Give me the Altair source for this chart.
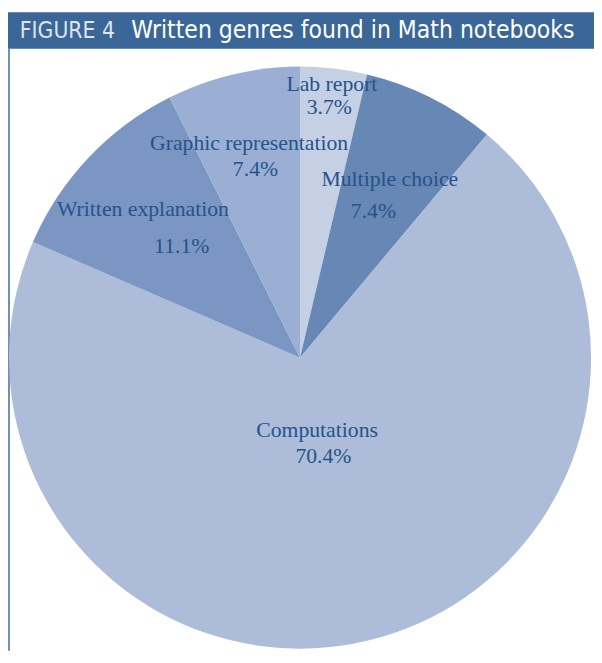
import math
import altair as alt
import pandas as pd

# ---- data ----
GENRES = ["Lab report", "Multiple choice", "Computations",
          "Written explanation", "Graphic representation"]
SHARES = [3.7, 7.4, 70.4, 11.1, 7.4]
PCT_LABELS = ["3.7%", "7.4%", "70.4%", "11.1%", "7.4%"]
TITLE_PREFIX = "FIGURE 4"
TITLE_TEXT = "Written genres found in Math notebooks"

# ---- style / layout ----
COLORS = ["#c6d0e5", "#6787b5", "#adbcd8", "#7b96c2", "#9aafd3"]
NAME_RADIUS = [279, 203, 75, 219, 224]
PCT_RADIUS = [256, 166, 103, 165, 196]
TXT = "#24548b"
BAND = "#3b6798"
W, H = 594, 647
CX, CY, R = 296, 350, 295
SERIF = "Liberation Serif"
COND = "Liberation Sans Narrow, DejaVu Sans Condensed, Roboto, sans-serif"

df = pd.DataFrame({
    "genre": GENRES,
    "share": SHARES,
    "pct": PCT_LABELS,
    "order": list(range(len(GENRES))),
    "name_r": NAME_RADIUS,
    "pct_r": PCT_RADIUS,
})

theta_scale = alt.Scale(domain=[0, 100], range=[0, 2 * math.pi])

arc = alt.Chart(df).mark_arc(outerRadius=R).encode(
    theta=alt.Theta("share:Q", stack=True, scale=theta_scale),
    order=alt.Order("order:Q"),
    x=alt.value(CX),
    y=alt.value(CY),
    color=alt.Color("genre:N", scale=alt.Scale(domain=GENRES, range=COLORS), legend=None),
)

lab = alt.Chart(df).transform_window(
    cum="sum(share)", sort=[alt.SortField("order")]
).transform_calculate(
    mid="datum.cum - datum.share / 2"
).encode(
    theta=alt.Theta("mid:Q", stack=None, scale=theta_scale),
    x=alt.value(CX),
    y=alt.value(CY),
)

names = lab.mark_text(font=SERIF, fontSize=22, color=TXT).encode(
    text="genre:N",
    radius=alt.Radius("name_r:Q", scale=None, stack=None),
)
pcts = lab.mark_text(font=SERIF, fontSize=22, color=TXT).encode(
    text="pct:N",
    radius=alt.Radius("pct_r:Q", scale=None, stack=None),
)

one = pd.DataFrame({"a": [0]})
band = alt.Chart(one).mark_rect(color=BAND).encode(
    x=alt.value(0), x2=alt.value(W), y=alt.value(0), y2=alt.value(37)
)
border = alt.Chart(one).mark_rule(color="#6f8fba", strokeWidth=2).encode(
    x=alt.value(1), y=alt.value(37), y2=alt.value(H)
)
t1 = alt.Chart(pd.DataFrame({"t": [TITLE_PREFIX]})).mark_text(
    align="left", baseline="middle", font=COND, fontSize=23, color="#dde4ee"
).encode(x=alt.value(12), y=alt.value(19), text="t:N")
t2 = alt.Chart(pd.DataFrame({"t": [TITLE_TEXT]})).mark_text(
    align="left", baseline="middle", font=COND, fontSize=24.8, color="#ffffff"
).encode(x=alt.value(125), y=alt.value(19), text="t:N")

chart = alt.layer(border, arc, names, pcts, band, t1, t2).properties(
    width=W, height=H, padding=0
).configure_view(stroke=None)

chart.save("out.html", embed_options={"renderer": "svg", "actions": False})
